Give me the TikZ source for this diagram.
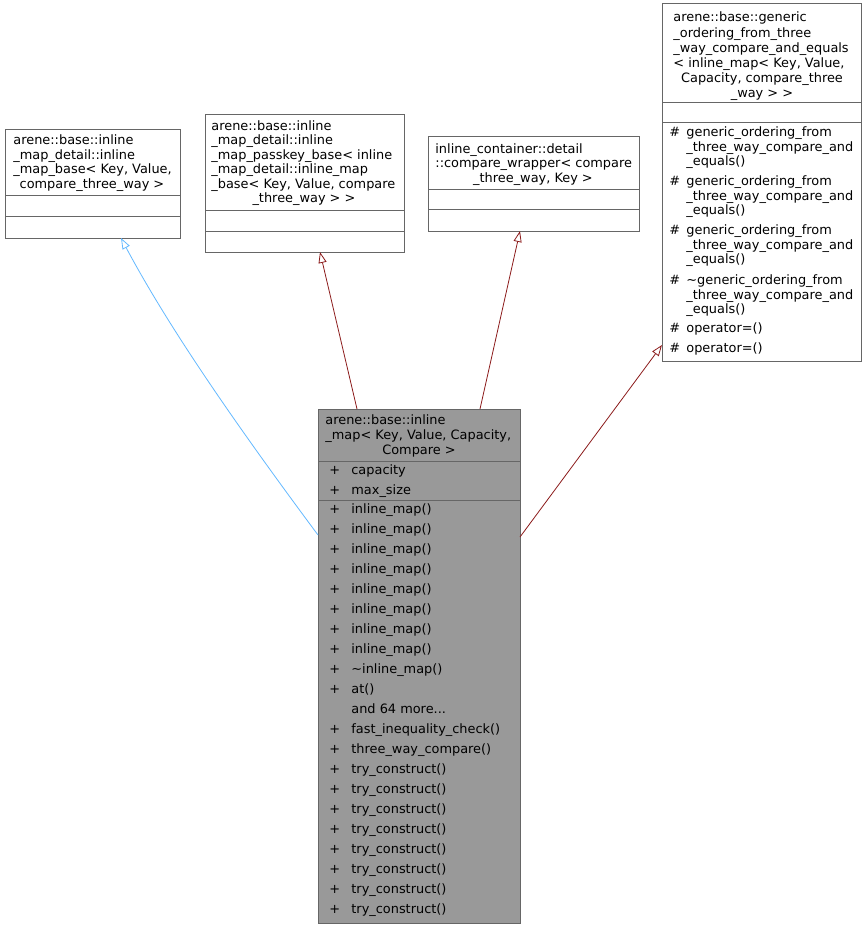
\documentclass[tikz,border=0pt]{standalone}
\usepackage{fontspec}
\setmainfont{DejaVu Sans}
\usetikzlibrary{arrows.meta}
\definecolor{edgeblue}{HTML}{63B8FF}
\definecolor{edgered}{HTML}{8B1A1A}
\begin{document}
\begin{tikzpicture}[x=1pt, y=-1pt, line width=0.8pt,
    box/.style={draw=black!60},
    line/.style={anchor=base west, inner sep=0pt, font=\fontsize{12.9}{14}\selectfont},
    cline/.style={anchor=base, inner sep=0pt, font=\fontsize{12.9}{14}\selectfont},
    inherit/.style={-{Triangle[open, length=11pt, width=8pt]}, line width=0.8pt},
    pub/.style={inherit, draw=edgered},
    blue/.style={inherit, draw=edgeblue}]
  \useasboundingbox (0,0) rectangle (867,929);
  % left base class
  \draw[box, fill=white] (5,129) rectangle (180,238);
  \draw[box] (5,195) -- (180,195) (5,216) -- (180,216);
  \node[line] (a1) at (13,144) {arene::base::inline};
  \node[line] (a2) at (13,159) {\_map\_detail::inline};
  \node[line] (a3) at (13,173) {\_map\_base< Key, Value,};
  \node[cline] (a4) at (92,188) {compare\_three\_way >};
  \coordinate (abase) at (121,238);
  % passkey base
  \draw[box] (205,114) rectangle (404,252);
  \draw[box] (205,210) -- (404,210) (205,231) -- (404,231);
  \node[line] (b1) at (211,130) {arene::base::inline};
  \node[line] (b2) at (211,144) {\_map\_detail::inline};
  \node[line] (b3) at (211,159) {\_map\_passkey\_base< inline};
  \node[line] (b4) at (211,173) {\_map\_detail::inline\_map};
  \node[line] (b5) at (211,188) {\_base< Key, Value, compare};
  \node[cline] (b6) at (304,202) {\_three\_way > >};
  \coordinate (bbase) at (320,252);
  % compare wrapper
  \draw[box] (428,136) rectangle (639,231);
  \draw[box] (428,189) -- (639,189) (428,209) -- (639,209);
  \node[line] (c1) at (435,153) {inline\_container::detail};
  \node[line] (c2) at (435,167) {::compare\_wrapper< compare};
  \node[cline] (c3) at (533,182) {\_three\_way, Key >};
  \coordinate (cbase) at (520,231);
  % ordering base
  \draw[box] (662,3) rectangle (861,361);
  \draw[box] (662,102) -- (861,102) (662,122) -- (861,122);
  \node[line] (d1) at (673,21) {arene::base::generic};
  \node[line] (d2) at (673,37) {\_ordering\_from\_three};
  \node[line] (d3) at (673,52) {\_way\_compare\_and\_equals};
  \node[line] (d4) at (673,67) {< inline\_map< Key, Value,};
  \node[cline] (d5) at (762,82) {Capacity, compare\_three};
  \node[cline] (d6) at (762,97) {\_way > >};
  \foreach \y/\t in {136/generic\_ordering\_from, 185/generic\_ordering\_from,
      234/generic\_ordering\_from, 284/\textasciitilde generic\_ordering\_from} {
    \node[line] at (669,\y) {\#};
    \node[line] at (686,\y) {\t};
    \node[line] at (686,\y+15) {\_three\_way\_compare\_and};
    \node[line] at (686,\y+29) {\_equals()};
  }
  \node[line] (d7h) at (669,332) {\#};
  \node[line] (d7) at (686,332) {operator=()};
  \node[line] (d8h) at (669,352) {\#};
  \node[line] (d8) at (686,352) {operator=()};
  \coordinate (dbase) at (662,345);
  % inline_map
  \draw[box, fill=black!40] (318,409) rectangle (520,923);
  \draw[box] (318,461) -- (520,461) (318,500) -- (520,500);
  \node[line] (e1) at (325,424) {arene::base::inline};
  \node[line] (e2) at (325,439) {\_map< Key, Value, Capacity,};
  \node[cline] (e3) at (419,454) {Compare >};
  \foreach \y/\t in {474/capacity, 494/max\_size,
      513/inline\_map(), 533/inline\_map(), 553/inline\_map(), 573/inline\_map(),
      593/inline\_map(), 613/inline\_map(), 633/inline\_map(), 653/inline\_map(),
      673/\textasciitilde inline\_map(), 693/at(),
      733/fast\_inequality\_check(), 753/three\_way\_compare(),
      773/try\_construct(), 793/try\_construct(), 813/try\_construct(), 833/try\_construct(),
      853/try\_construct(), 873/try\_construct(), 893/try\_construct(), 913/try\_construct()} {
    \node[line] at (329,\y) {+};
    \node[line] at (351,\y) {\t};
  }
  \node[line] (more) at (351,713) {and 64 more...};
  \coordinate (ew) at (318,535);
  \coordinate (eb) at (357,409);
  \coordinate (ec) at (480,409);
  \coordinate (ee) at (520,537);
  % inheritance
  \draw[blue] (ew) .. controls (240,430) and (170,330) .. (abase);
  \draw[pub] (eb) -- (bbase);
  \draw[pub] (ec) -- (cbase);
  \draw[pub] (ee) -- (dbase);
\end{tikzpicture}
\end{document}
